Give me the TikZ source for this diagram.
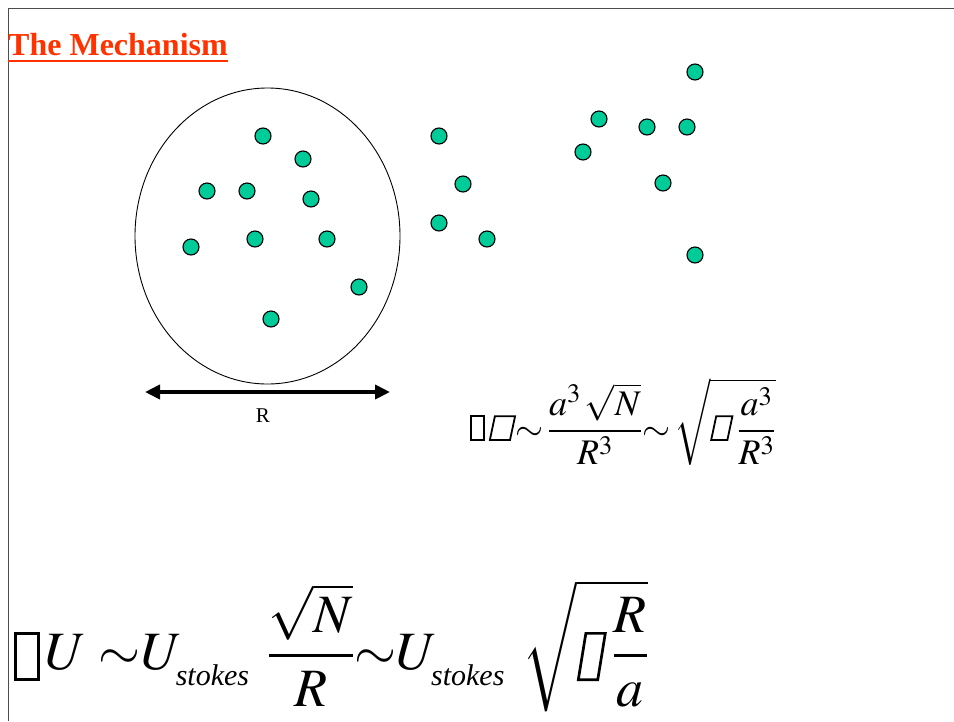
\documentclass[tikz,border=0pt]{standalone}
\usepackage{mathptmx}
\usepackage{fontspec}
\setmainfont{Liberation Serif}
\usetikzlibrary{arrows.meta}
\definecolor{mechred}{RGB}{255,51,0}
\definecolor{beadgreen}{RGB}{0,204,153}
\colorlet{framegray}{black!70}
\tikzstyle{bead}=[circle, fill=beadgreen, draw=black, line width=1.1pt, minimum size=16pt, inner sep=0pt]
\tikzstyle{formula}=[anchor=base west, inner sep=0pt]
% empty glyph boxes, upright and slanted: {depth}{width}{height}
\newcommand{\tofu}[3]{\tikz[baseline=0pt]\draw[line width=0.05em] (0,#1) rectangle (#2,#3);}
\newcommand{\tofuit}[3]{\tikz[baseline=0pt]\draw[line width=0.05em] (0,#1) -- (#2,#1) -- ([xshift=0.14em]#2,#3) -- (0.14em,#3) -- cycle;}
% lowered subscript text
\newcommand{\stokes}{\raisebox{-8pt}{\fontsize{30}{32}\selectfont\itshape stokes}}

\begin{document}
\begin{tikzpicture}[x=1pt, y=-1pt]
	\useasboundingbox (0,0) rectangle (954,721);

	% slide frame
	\draw[framegray, line width=1.2pt] (8.5,721) -- (8.5,8.5) -- (954,8.5);

	% title
	\node[anchor=base west, inner sep=0pt, text=mechred, font=\fontsize{32}{36}\selectfont\bfseries] (title) at (8,55) {The Mechanism};
	\draw[mechred, line width=2pt] ([yshift=-6pt]title.base west) -- ([yshift=-6pt]title.base east);

	% the blob of radius R
	\draw[line width=0.9pt] (267.5,236) ellipse [x radius=132.5, y radius=148];

	% beads inside the blob
	\foreach \x/\y [count=\i] in {263/136, 303/159, 207/191, 247/191, 311/199,
		191/247, 255/239, 327/239, 359/287, 271/319}{
		\node[bead] (in\i) at (\x,\y) {};
	}
	% beads outside
	\foreach \x/\y [count=\i] in {439/136, 463/184, 439/223, 487/239,
		599/119, 583/152, 647/127, 687/127, 695/72, 663/183, 695/255}{
		\node[bead] (out\i) at (\x,\y) {};
	}

	% size arrow
	\coordinate (rl) at (145,392);
	\coordinate (rr) at (390,392);
	\draw[line width=4pt, {Triangle[length=15pt,width=14pt]}-{Triangle[length=15pt,width=14pt]}] (rl) -- (rr);
	\node[anchor=base, inner sep=0pt, font=\fontsize{21}{25}\selectfont] (rlab) at (263,422) {R};

	% scalings
	\node[formula, font=\fontsize{36}{40}\selectfont] (fphi) at (470,440)
		{$\tofu{0em}{0.36em}{0.66em}\,\tofuit{0em}{0.56em}{0.66em}{\sim}\,\displaystyle\frac{a^3\,\sqrt{N}}{R^3}{\sim}\,\sqrt{\tofuit{0em}{0.45em}{0.66em}\,\frac{a^3}{R^3}}$};
	\node[formula, font=\fontsize{54}{60}\selectfont] (fu) at (14,669)
		{$\tofu{-0.2em}{0.42em}{0.66em}\,U\;{\sim}U_{\stokes}\;\,\displaystyle\frac{\sqrt{N}}{R}{\sim}U_{\stokes}\;\,\sqrt{\tofuit{-0.2em}{0.36em}{0.66em}\,\frac{R}{a}}$};
\end{tikzpicture}
\end{document}
